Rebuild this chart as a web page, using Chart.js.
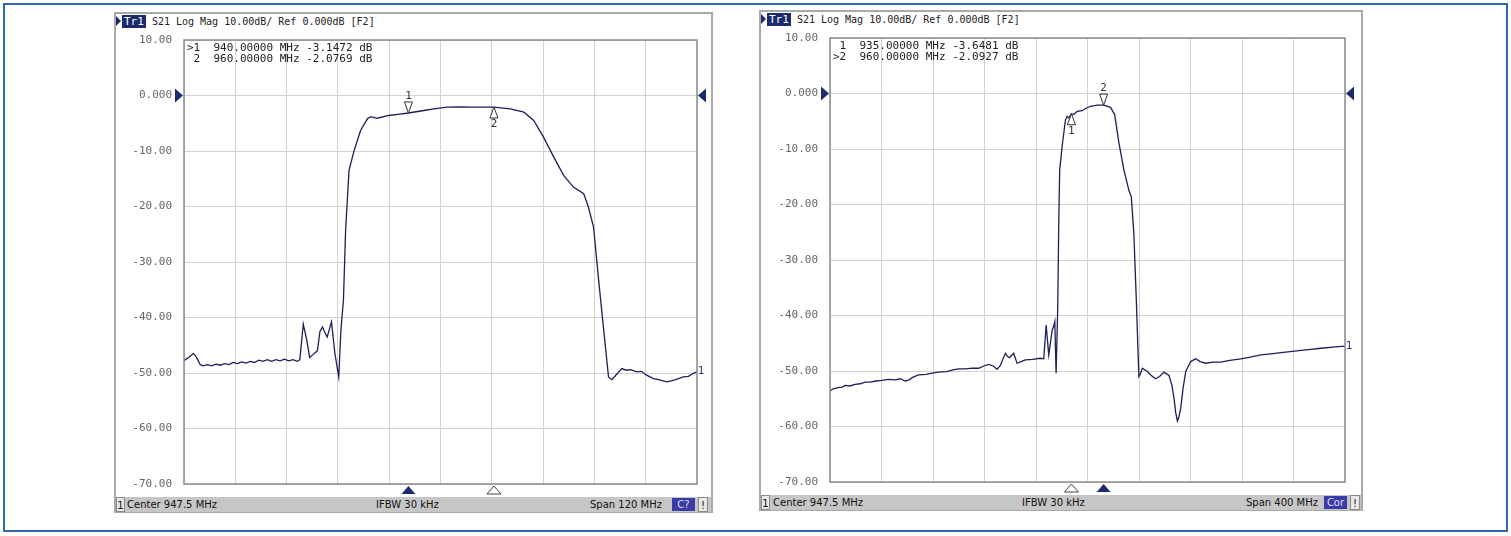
<!DOCTYPE html>
<html>
<head>
<meta charset="utf-8">
<script src="https://cdn.jsdelivr.net/npm/chart.js@4.4.0/dist/chart.umd.min.js"></script>
<style>
  body { margin: 0; width: 1511px; height: 536px; background: #fff; position: relative; overflow: hidden; font-family: "DejaVu Sans", sans-serif; }
  .frame { position: absolute; left: 3px; top: 3px; width: 1501px; height: 525px; border: 2px solid #2f66ad; }
  .panel { position: absolute; border: 2px solid #a9a9a9; box-sizing: border-box; background: #fff; }
  .abs { position: absolute; white-space: pre; }
  .mono { font: 10px "DejaVu Sans Mono", monospace; color: #222; line-height: 13px; }
  .trbox { background: #1c2a6e; color: #fff; padding: 0 2px; font-size: 11px; }
  .status { position: absolute; background: #c6c6c6; height: 15px; font: 10px "DejaVu Sans", sans-serif; color: #111; line-height: 15px; }
  .status span { position: absolute; top: 0; }
  .sbox { background: #e8e8e8; border: 1px solid #8a8a8a; box-sizing: border-box; height: 15px; text-align: center; }
  .cbox { background: #3b3ba6; color: #dde; text-align: center; height: 13px; line-height: 13px; top: 1px !important; }
  canvas { position: absolute; }
</style>
</head>
<body>
<div class="frame"></div>

<div class="panel" style="left:114px;top:12px;width:599px;height:501px"></div>
<div class="panel" style="left:759px;top:10px;width:604px;height:501px"></div>

<!-- title bars -->
<div class="abs" style="left:116px;top:16px;width:0;height:0;border-top:5px solid transparent;border-bottom:5px solid transparent;border-left:5px solid #1c2a6e"></div>
<div class="abs mono" style="left:122px;top:15px"><span class="trbox">Tr1</span> S21 Log Mag 10.00dB/ Ref 0.000dB [F2]</div>
<div class="abs" style="left:761px;top:14px;width:0;height:0;border-top:5px solid transparent;border-bottom:5px solid transparent;border-left:5px solid #1c2a6e"></div>
<div class="abs mono" style="left:767px;top:13px"><span class="trbox">Tr1</span> S21 Log Mag 10.00dB/ Ref 0.000dB [F2]</div>

<canvas id="leftChart" width="595" height="468" style="left:116px;top:28px;width:595px;height:468px"></canvas>
<canvas id="rightChart" width="600" height="468" style="left:761px;top:26px;width:600px;height:468px"></canvas>

<!-- status bars -->
<div class="status" style="left:116px;top:497px;width:595px">
  <span class="sbox" style="left:0;width:9px">1</span>
  <span style="left:11px">Center 947.5 MHz</span>
  <span style="left:260px">IFBW 30 kHz</span>
  <span style="left:474px">Span 120 MHz</span>
  <span class="cbox" style="left:556px;width:23px">C?</span>
  <span class="sbox" style="left:582px;width:10px">!</span>
</div>
<div class="status" style="left:761px;top:495px;width:600px">
  <span class="sbox" style="left:0;width:9px">1</span>
  <span style="left:12px">Center 947.5 MHz</span>
  <span style="left:261px">IFBW 30 kHz</span>
  <span style="left:485px">Span 400 MHz</span>
  <span class="cbox" style="left:563px;width:23px">Cor</span>
  <span class="sbox" style="left:589px;width:10px">!</span>
</div>

<script>
const yTickValues = [10, 0, -10, -20, -30, -40, -50, -60, -70];

// left screen: center 947.5 MHz, span 120 MHz
const leftXTicks = [887.5, 899.5, 911.5, 923.5, 935.5, 947.5, 959.5, 971.5, 983.5, 995.5, 1007.5];
const leftFreq = [887.5, 888.0, 888.6, 889.2, 889.7, 890.2, 890.7, 891.3, 892.0, 893.0, 894.0, 895.0, 896.0, 897.0,
  898.0, 899.0, 900.0, 901.0, 902.0, 903.0, 904.0, 905.0, 906.0, 907.0, 908.0, 909.0, 910.0, 911.0, 912.0, 913.0,
  914.0, 914.6, 915.4, 916.2, 916.9, 917.8, 918.7, 919.3, 919.9, 920.4, 921.0, 922.0, 922.8, 923.7, 924.2, 924.8,
  925.3, 926.1, 927.3, 928.8, 930.4, 931.2, 932.7, 935.4, 937.5, 940.0, 943.6, 946.0, 949.1, 952.0, 955.0, 960.0,
  963.8, 967.0, 969.3, 971.6, 974.0, 976.3, 978.6, 981.0, 982.1, 983.3, 984.5, 985.6, 986.8, 987.6, 988.4, 989.9,
  991.0, 992.0, 993.4, 994.5, 995.5, 997.3, 998.5, 1000.4, 1001.5, 1002.5, 1004.3, 1005.5, 1006.5, 1007.5];
const leftDb = [-47.8, -47.5, -47.2, -46.8, -46.5, -46.9, -47.6, -48.5, -48.7, -48.5, -48.7, -48.4, -48.6, -48.3,
  -48.5, -48.1, -48.3, -48.0, -48.2, -47.9, -48.1, -47.7, -47.9, -47.6, -47.9, -47.6, -47.8, -47.5, -47.8, -47.6,
  -47.9, -47.6, -41.2, -44.0, -47.2, -46.6, -46.0, -42.5, -41.7, -42.6, -43.5, -40.8, -46.5, -50.7, -42.3, -36.8,
  -24.3, -13.5, -9.9, -6.3, -4.2, -3.8, -4.1, -3.6, -3.4, -3.15, -2.7, -2.4, -2.1, -2.05, -2.1, -2.08,
  -2.4, -3.0, -4.5, -7.5, -11.1, -14.4, -16.5, -17.7, -20.1, -23.7, -33.3, -41.7, -50.7, -51.2, -50.5, -49.2,
  -49.5, -49.4, -49.8, -49.7, -50.3, -51.0, -51.2, -51.6, -51.4, -51.2, -50.7, -50.6, -50.1, -49.8];
const leftMarkerFreq = [940, 960];
const leftMarkerDb = [-3.1472, -2.0769];
const leftReadout = [">1  940.00000 MHz -3.1472 dB", " 2  960.00000 MHz -2.0769 dB"];

// right screen: center 947.5 MHz, span 400 MHz
const rightXTicks = [747.5, 787.5, 827.5, 867.5, 907.5, 947.5, 987.5, 1027.5, 1067.5, 1107.5, 1147.5];
const rightFreq = [747.5, 750, 753.7, 757, 759.2, 763, 767.0, 771, 774.7, 779, 783, 787.7, 793, 798.1, 802, 805.9,
  809, 811.3, 816.2, 822, 827, 831.8, 838, 843, 847.3, 853, 858, 862.9, 867, 870.7, 874.3, 877.2, 879.8, 883.7,
  885.5, 886.8, 888.5, 890.1, 892.8, 896, 899.2, 905, 910.9, 913.5, 915.4, 917.4, 920.1, 921.3, 922.1, 923.1,
  924.4, 925.2, 925.9, 927.8, 930.4, 931.7, 933, 935.0, 936.8, 939.5, 943.4, 946, 949.9, 955, 960.0, 965.4,
  968.6, 971.9, 975.8, 979.6, 981.5, 983.5, 985.6, 987.4, 988.5, 990.1, 994.0, 997, 1000.4, 1003.5, 1006.9,
  1010.8, 1013, 1014.7, 1016, 1017.3, 1018.5, 1019.9, 1021.8, 1023.8, 1027.7, 1031.5, 1035, 1039.4, 1045,
  1051.0, 1058, 1066.6, 1074, 1082.1, 1090, 1097.7, 1105, 1113.3, 1121, 1128.9, 1138, 1147.5];
const rightDb = [-53.6, -53.2, -53.0, -52.9, -52.6, -52.7, -52.4, -52.3, -52.0, -52.0, -51.8, -51.7, -51.5, -51.6,
  -51.4, -51.8, -51.6, -51.2, -50.7, -50.6, -50.4, -50.2, -50.1, -49.8, -49.6, -49.6, -49.5, -49.5, -49.1, -48.8,
  -49.1, -49.7, -49.0, -46.8, -47.4, -47.6, -47.2, -46.8, -48.6, -48.3, -48.0, -47.9, -47.7, -47.8, -41.7, -47.1,
  -42.6, -41.9, -41.1, -50.4, -38.4, -22.8, -13.8, -9.5, -4.7, -4.1, -4.4, -3.65, -3.8, -3.2, -3.1, -2.7, -2.3,
  -2.1, -2.09, -2.5, -3.8, -8.9, -13.8, -17.4, -18.6, -25.2, -38.4, -51.0, -50.6, -49.5, -50.1, -50.8, -51.4,
  -51.0, -50.2, -50.8, -52.5, -54.9, -57.5, -59.0, -58.3, -56.7, -53.0, -50.1, -48.3, -47.8, -48.3, -48.6, -48.4,
  -48.4, -48.1, -47.8, -47.5, -47.1, -46.9, -46.7, -46.5, -46.3, -46.1, -45.9, -45.7, -45.5];
const rightMarkerFreq = [935, 960];
const rightMarkerDb = [-3.6481, -2.0927];
const rightReadout = [" 1  935.00000 MHz -3.6481 dB", ">2  960.00000 MHz -2.0927 dB"];

const NAVY = "#1c2a6e";
const TRACE = "#1e1e5a";

function tri(ctx, p, fill, stroke) {
  ctx.beginPath();
  ctx.moveTo(p[0], p[1]); ctx.lineTo(p[2], p[3]); ctx.lineTo(p[4], p[5]);
  ctx.closePath();
  if (fill) { ctx.fillStyle = fill; ctx.fill(); }
  if (stroke) { ctx.strokeStyle = stroke; ctx.lineWidth = 1; ctx.stroke(); }
}

// draws the analyzer decorations: frame, ref arrows, markers, readout
const vnaOverlay = {
  id: "vnaOverlay",
  afterDraw(chart, args, o) {
    const { ctx, chartArea: a, scales: { x, y } } = chart;
    ctx.save();
    ctx.strokeStyle = "#8c8c8c";
    ctx.lineWidth = 1.5;
    ctx.strokeRect(a.left, a.top, a.right - a.left, a.bottom - a.top);

    // reference level arrows
    const ry = y.getPixelForValue(0);
    tri(ctx, [a.left - 9, ry - 7, a.left - 1, ry, a.left - 9, ry + 7], NAVY);
    tri(ctx, [a.right + 9, ry - 7, a.right + 1, ry, a.right + 9, ry + 7], NAVY);

    ctx.font = "11px 'DejaVu Sans Mono', monospace";
    ctx.textAlign = "center";
    ctx.textBaseline = "middle";
    o.freq.forEach((f, i) => {
      const px = x.getPixelForValue(f);
      const py = y.getPixelForValue(o.db[i]);
      const active = i === o.active;
      if (active) {
        tri(ctx, [px - 4, py - 11, px + 4, py - 11, px, py], "#fff", "#333");
        ctx.fillStyle = "#333";
        ctx.fillText(String(i + 1), px, py - 17);
      } else {
        tri(ctx, [px - 4, py + 11, px + 4, py + 11, px, py], "#fff", "#333");
        ctx.fillStyle = "#333";
        ctx.fillText(String(i + 1), px, py + 17);
      }
      // marker position on the bottom edge
      const by = a.bottom + 2;
      if (active) tri(ctx, [px - 7, by + 8, px + 7, by + 8, px, by], NAVY);
      else tri(ctx, [px - 7, by + 8, px + 7, by + 8, px, by], "#fff", "#444");
    });

    // marker readout
    ctx.textAlign = "left";
    ctx.fillStyle = "#222";
    o.readout.forEach((t, i) => ctx.fillText(t, a.left + 3, a.top + 8 + i * 11));

    // trace number at the end of the trace
    const last = chart.data.datasets[0].data.slice(-1)[0];
    ctx.fillStyle = NAVY;
    ctx.font = "10px 'DejaVu Sans', sans-serif";
    ctx.fillText("1", a.right + 1, y.getPixelForValue(last.y));
    ctx.restore();
  }
};

function drawScreen(id, freq, db, xTicks, markerFreq, markerDb, readout, active, pad) {
  const ctx = document.getElementById(id).getContext("2d");
  new Chart(ctx, {
    type: "line",
    data: {
      datasets: [{
        data: freq.map((f, i) => ({ x: f, y: db[i] })),
        borderColor: TRACE,
        borderWidth: 1.3,
        pointRadius: 0,
        tension: 0
      }]
    },
    options: {
      responsive: false,
      animation: false,
      layout: { padding: pad },
      scales: {
        x: {
          type: "linear",
          min: xTicks[0],
          max: xTicks[xTicks.length - 1],
          afterBuildTicks: s => { s.ticks = xTicks.map(v => ({ value: v })); },
          afterFit: s => { s.height = 12; },
          ticks: { display: false },
          grid: { color: "#d2d2d2", drawTicks: false },
          border: { display: false }
        },
        y: {
          min: -70,
          max: 10,
          afterBuildTicks: s => { s.ticks = yTickValues.map(v => ({ value: v })); },
          afterFit: s => { s.width = pad.yWidth; },
          ticks: {
            padding: 1,
            color: "#666",
            font: { family: "'DejaVu Sans Mono', monospace", size: 11 },
            callback: v => (v === 0 ? "0.000" : v.toFixed(2))
          },
          grid: { color: "#d2d2d2", drawTicks: true, tickLength: 11, tickColor: "rgba(0,0,0,0)" },
          border: { display: false }
        }
      },
      plugins: {
        legend: { display: false },
        tooltip: { enabled: false },
        vnaOverlay: { freq: markerFreq, db: markerDb, readout: readout, active: active }
      }
    },
    plugins: [vnaOverlay]
  });
}

drawScreen("leftChart", leftFreq, leftDb, leftXTicks, leftMarkerFreq, leftMarkerDb, leftReadout, 0,
  { top: 12, right: 14, bottom: 0, left: 0, yWidth: 68 });
drawScreen("rightChart", rightFreq, rightDb, rightXTicks, rightMarkerFreq, rightMarkerDb, rightReadout, 1,
  { top: 12, right: 16, bottom: 0, left: 0, yWidth: 69 });
</script>
</body>
</html>
